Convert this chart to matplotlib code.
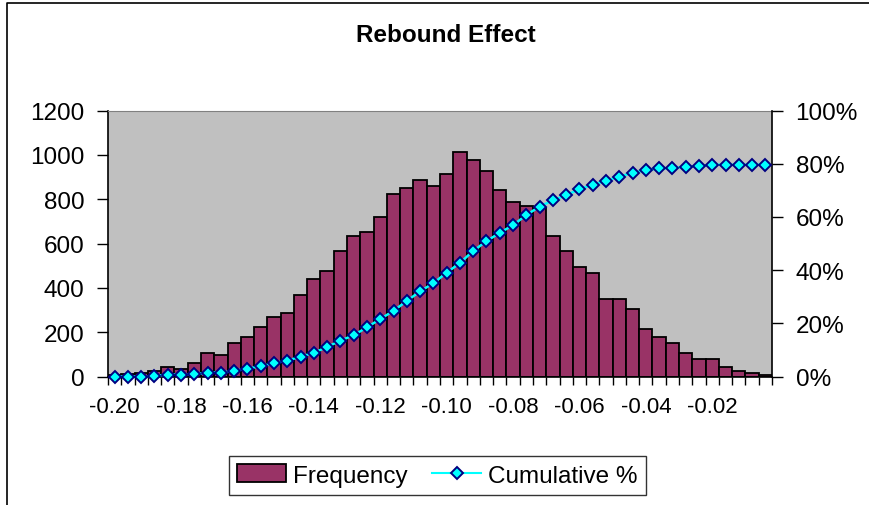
import matplotlib
matplotlib.use('Agg')
import matplotlib.pyplot as plt
from matplotlib.patches import Patch
from matplotlib.lines import Line2D
from matplotlib.ticker import FuncFormatter

plt.rcParams['font.family'] = ['Liberation Sans', 'DejaVu Sans']

# histogram bins (width 0.004), frequency and cumulative %
frequency = [5, 10, 18, 26, 45, 36, 60, 105, 96, 150,
             177, 222, 267, 287, 366, 438, 474, 564, 636, 654,
             720, 825, 852, 888, 861, 915, 1014, 978, 925, 843,
             789, 771, 762, 636, 565, 494, 467, 348, 348, 303,
             215, 179, 152, 105, 78, 78, 44, 26, 17, 8]
cumulative = [0.0, 0.0, 0.0, 0.2, 0.75, 0.75, 0.8, 1.5, 1.5, 2.1,
              3.0, 3.8, 5.1, 5.9, 7.5, 8.9, 11.1, 13.5, 15.5, 18.5,
              21.6, 24.7, 28.4, 32.0, 35.1, 39.0, 42.7, 47.2, 50.9, 54.0,
              56.9, 60.7, 63.9, 66.2, 68.2, 70.4, 72.1, 73.6, 75.1, 76.6,
              77.6, 78.2, 78.3, 78.9, 79.0, 79.6, 79.6, 79.6, 79.6, 79.6]
tick_labels = ['-0.20', '-0.18', '-0.16', '-0.14', '-0.12',
               '-0.10', '-0.08', '-0.06', '-0.04', '-0.02']
left_ticks = [0, 200, 400, 600, 800, 1000, 1200]
right_ticks = [0, 20, 40, 60, 80, 100]

n = len(frequency)
idx = list(range(n))

fig = plt.figure(figsize=(8.7, 5.06), dpi=100)
ax = fig.add_axes([108 / 870, 1 - 377.5 / 506, (772 - 108) / 870, (377.5 - 111.5) / 506])
ax.set_facecolor('#C0C0C0')

ax.bar(idx, frequency, width=1.0, color='#993366', edgecolor='black', linewidth=1.3, zorder=2)
ax.set_xlim(-0.5, n - 0.5)
ax.set_ylim(0, 1200)
ax.set_yticks(left_ticks)
ax.tick_params(axis='y', direction='out', length=8, width=1, pad=9, labelsize=17.5)

# tick marks at bin edges, labels every fifth bin
ax.set_xticks([i - 0.5 for i in range(n + 1)])
ax.set_xticklabels([])
ax.tick_params(axis='x', which='major', direction='out', length=6, width=1)
ax.set_xticks(idx[::5], minor=True)
ax.set_xticklabels(tick_labels, minor=True)
ax.tick_params(axis='x', which='minor', length=0, pad=14, labelsize=16)

for side in ['left', 'bottom']:
    ax.spines[side].set_color('black')
    ax.spines[side].set_linewidth(1.2)
ax.spines['top'].set_color('#808080')
ax.spines['right'].set_visible(False)

ax2 = ax.twinx()
ax2.plot(idx, cumulative, color='#00FFFF', linewidth=1.8, marker='D', markersize=6.5,
         markerfacecolor='#00FFFF', markeredgecolor='#000080', markeredgewidth=1.4,
         zorder=3, clip_on=False)
ax2.set_ylim(0, 100)
ax2.set_yticks(right_ticks)
ax2.yaxis.set_major_formatter(FuncFormatter(lambda v, p: f'{int(v)}%'))
ax2.tick_params(axis='y', direction='out', length=8, width=1, pad=9, labelsize=17.5)
ax2.spines['right'].set_color('black')
ax2.spines['right'].set_linewidth(1.2)
ax2.spines['top'].set_visible(False)
ax2.spines['left'].set_visible(False)
ax2.spines['bottom'].set_visible(False)

fig.text(446 / 870, 1 - 36 / 506, 'Rebound Effect', ha='center', va='center',
         fontsize=17.5, fontweight='bold')

handles = [Patch(facecolor='#993366', edgecolor='black', linewidth=1.3),
           Line2D([0], [0], color='#00FFFF', linewidth=1.5, marker='D', markersize=6.5,
                  markerfacecolor='#00FFFF', markeredgecolor='#000080', markeredgewidth=1.4)]
leg = fig.legend(handles, ['Frequency', 'Cumulative %'], ncol=2, loc='center',
                 bbox_to_anchor=(437.5 / 870, 1 - 476.5 / 506), fontsize=17.5,
                 frameon=True, fancybox=False, handlelength=2.0, handletextpad=0.3,
                 columnspacing=1.0, borderpad=0.35)
leg.get_frame().set_edgecolor('black')
leg.get_frame().set_linewidth(1.0)

# chart area border (left and top edges visible)
fig.add_artist(Line2D([7 / 870, 7 / 870, 1.0], [0.0, 1 - 4 / 506, 1 - 4 / 506],
                      transform=fig.transFigure, color='black', linewidth=1.2))

fig.savefig('out.png', dpi=100, facecolor='white')
